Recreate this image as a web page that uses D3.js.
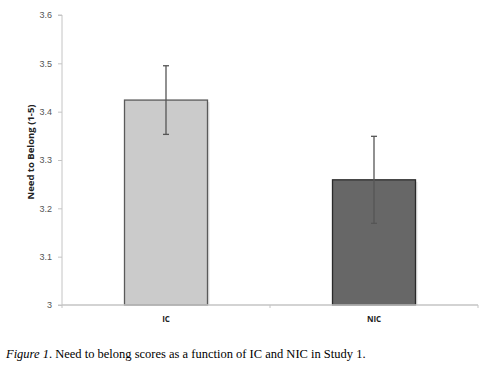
<!DOCTYPE html>
<html><head><meta charset="utf-8">
<script src="https://cdn.jsdelivr.net/npm/d3@7"></script>
<style>body{margin:0;background:#fff}svg{display:block}</style>
</head><body>
<svg id="c" width="500" height="369"></svg>
<script>
const categories = ["IC", "NIC"];
const means = [3.424, 3.259];
const errors = [0.071, 0.090];
const fills = ["#cbcbcb", "#676767"];
const strokes = ["#5a5a5a", "#2a2a2a"];
const yTicks = [3, 3.1, 3.2, 3.3, 3.4, 3.5, 3.6];
const yTickLabels = ["3", "3.1", "3.2", "3.3", "3.4", "3.5", "3.6"];

const svg = d3.select("#c");
const x = d3.scaleBand().domain(categories).range([62, 478]).paddingInner(0).paddingOuter(0);
const y = d3.scaleLinear().domain([3, 3.6]).range([305, 15]);
const barW = 83;

// y axis
const ya = svg.append("g").attr("transform", "translate(62,0)")
  .call(d3.axisLeft(y).tickValues(yTicks).tickFormat((d,i)=>yTickLabels[i]).tickSize(4).tickPadding(6));
ya.select(".domain").attr("stroke", "#c4c4c4").attr("d", "M-4,15H0V305H-4");
ya.selectAll(".tick line").attr("stroke", "#c4c4c4");
ya.selectAll(".tick text").attr("fill", "#555").style("font-family", "'Liberation Sans', Arial, sans-serif").style("font-size", "9px");

// bars
const g = svg.append("g");
categories.forEach((c, i) => {
  const cx = x(c) + x.bandwidth() / 2;
  g.append("rect").attr("x", cx - barW/2 + 2).attr("y", y(means[i]) + 2)
    .attr("width", barW).attr("height", y(3) - y(means[i]) - 2).attr("fill", "#e4e4e4");
  g.append("rect").attr("x", cx - barW/2).attr("y", y(means[i]))
    .attr("width", barW).attr("height", y(3) - y(means[i]))
    .attr("fill", fills[i]).attr("stroke", strokes[i]).attr("stroke-width", 1.3);
});

// x axis
const xa = svg.append("g").attr("transform", "translate(0,305)");
xa.append("line").attr("x1", 62).attr("x2", 478).attr("y1", 0).attr("y2", 0).attr("stroke", "#c4c4c4").attr("stroke-width", 1.3);
[62, x("NIC"), 478].forEach(t => xa.append("line").attr("x1", t).attr("x2", t).attr("y1", 0).attr("y2", 3).attr("stroke", "#c4c4c4"));
categories.forEach(c => {
  xa.append("text").attr("x", x(c) + x.bandwidth()/2).attr("y", 17).attr("text-anchor", "middle")
    .style("font-family", "'Open Sans', 'DejaVu Sans', sans-serif").style("font-size", "8px").style("font-weight", "bold").attr("fill", "#222").text(c);
});

// error bars
const eg = svg.append("g").attr("stroke", "#555").attr("stroke-width", 1.3);
categories.forEach((c, i) => {
  const cx = x(c) + x.bandwidth()/2;
  eg.append("line").attr("x1", cx).attr("x2", cx).attr("y1", y(means[i] + errors[i])).attr("y2", y(means[i] - errors[i]));
  eg.append("line").attr("x1", cx - 3).attr("x2", cx + 3).attr("y1", y(means[i] + errors[i])).attr("y2", y(means[i] + errors[i]));
  eg.append("line").attr("x1", cx - 3).attr("x2", cx + 3).attr("y1", y(means[i] - errors[i])).attr("y2", y(means[i] - errors[i]));
});

// y label
svg.append("text").attr("transform", "translate(34,152) rotate(-90)").attr("text-anchor", "middle")
  .style("font-family", "'Open Sans', 'DejaVu Sans', sans-serif").style("font-size", "9.5px").style("font-weight", "bold").attr("fill", "#222")
  .text("Need to Belong (1-5)");

// caption
const cap = svg.append("text").attr("x", 6).attr("y", 358)
  .style("font-family", "'Liberation Serif', 'Times New Roman', serif").style("font-size", "12.5px").attr("fill", "#000");
cap.append("tspan").style("font-style", "italic").text("Figure 1");
cap.append("tspan").text(". Need to belong scores as a function of IC and NIC in Study 1.");
</script>
</body></html>
